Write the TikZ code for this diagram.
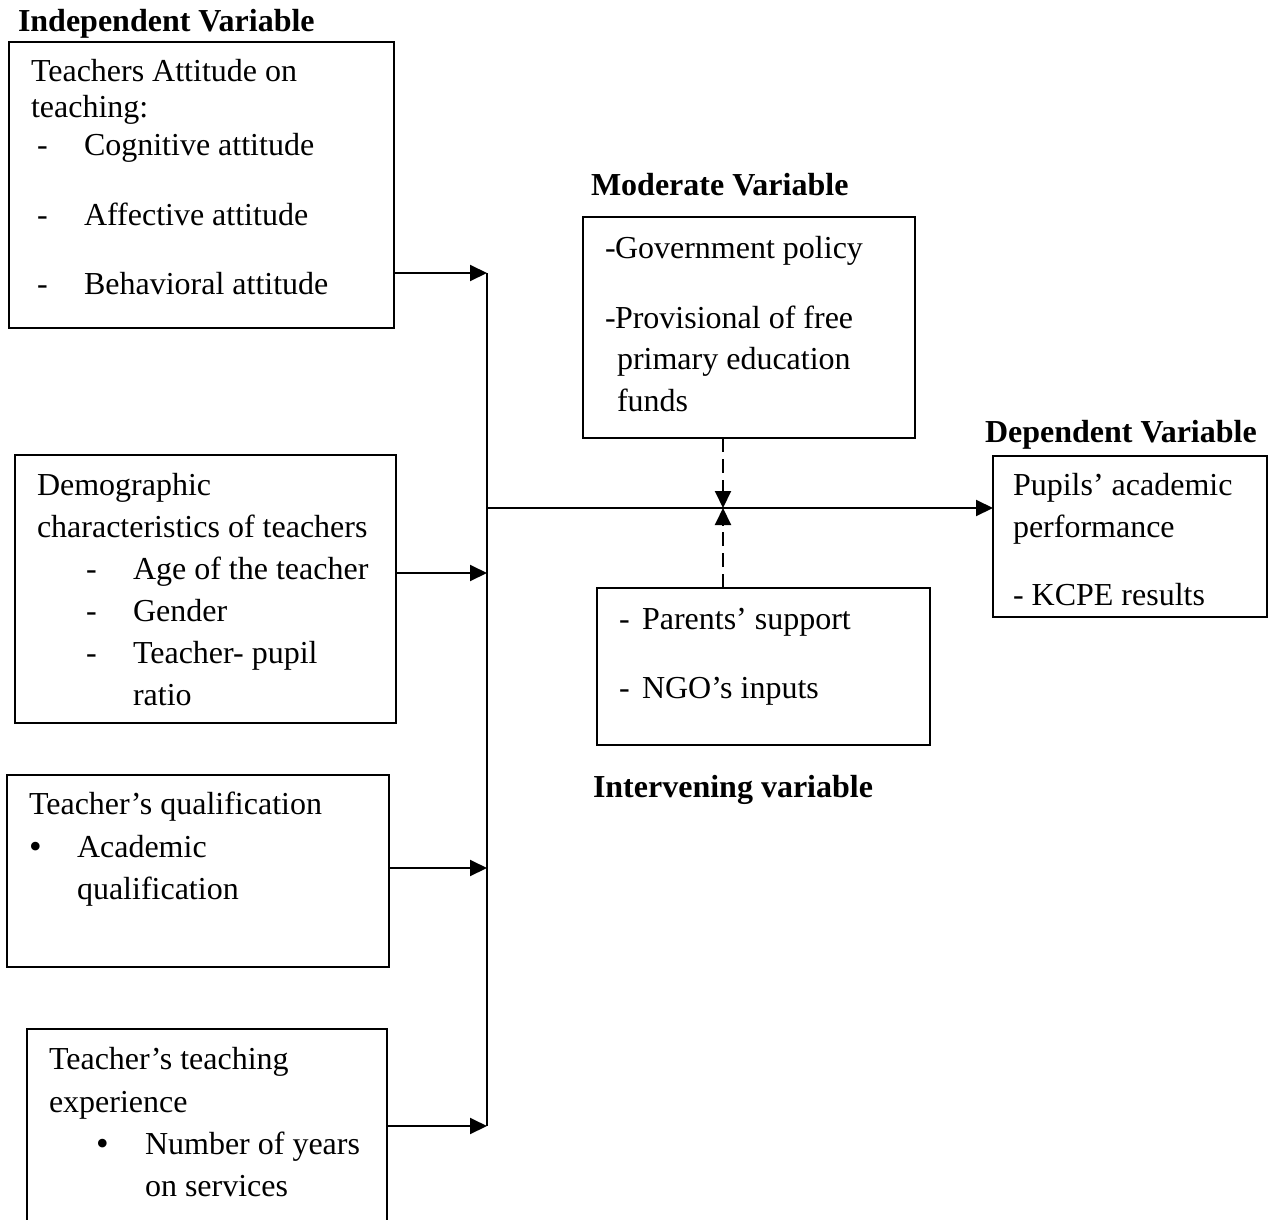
\documentclass[tikz,border=0pt]{standalone}
\usepackage{fontspec}
\setmainfont{Liberation Serif}
\usetikzlibrary{arrows.meta}
\begin{document}
\begin{tikzpicture}[x=1pt,y=-1pt,
  box/.style={draw=black, line width=2pt, rectangle, inner sep=0pt, outer sep=0pt, anchor=north west},
  txt/.style={anchor=base west, inner sep=0pt, outer sep=0pt, font=\fontsize{32}{42}\selectfont},
  hd/.style={txt, font=\fontsize{32}{42}\selectfont\bfseries},
  bul/.style={anchor=base west, inner sep=0pt, font=\fontsize{36}{42}\selectfont},
  arr/.style={line width=2pt, -{Triangle[length=17pt,width=16pt]}},
  dsh/.style={arr, dash pattern=on 14pt off 7pt}
]
\useasboundingbox (0,0) rectangle (1269,1220);
\clip (0,0) rectangle (1269,1220);

% headings
\node[hd] (hIndep) at (18,32) {Independent Variable};
\node[hd] (hMod) at (591,195) {Moderate Variable};
\node[hd] (hDep) at (985,442) {Dependent Variable};
\node[hd] (hInt) at (593,797) {Intervening variable};

% boxes
\node[box, minimum width=385pt, minimum height=286pt] (b1) at (9,42) {};
\node[box, minimum width=381pt, minimum height=268pt] (b2) at (15,455) {};
\node[box, minimum width=382pt, minimum height=192pt] (b3) at (7,775) {};
\node[box, minimum width=360pt, minimum height=211pt] (b4) at (27,1029) {};
\node[box, minimum width=332pt, minimum height=221pt] (b5) at (583,217) {};
\node[box, minimum width=274pt, minimum height=161pt] (b6) at (993,456) {};
\node[box, minimum width=333pt, minimum height=157pt] (b7) at (597,588) {};

% box 1 text
\node[txt] (t1a) at (31,82) {Teachers Attitude on};
\node[txt] (t1b) at (31,118) {teaching:};
\node[txt] (t1cd) at (37,156) {-};
\node[txt] (t1c) at (84,156) {Cognitive attitude};
\node[txt] (t1dd) at (37,225) {-};
\node[txt] (t1d) at (84,225) {Affective attitude};
\node[txt] (t1ed) at (37,294) {-};
\node[txt] (t1e) at (84,294) {Behavioral attitude};

% box 2 text
\node[txt] (t2a) at (37,495) {Demographic};
\node[txt] (t2b) at (37,537) {characteristics of teachers};
\node[txt] (t2cd) at (86,579) {-};
\node[txt] (t2c) at (133,579) {Age of the teacher};
\node[txt] (t2dd) at (86,621) {-};
\node[txt] (t2d) at (133,621) {Gender};
\node[txt] (t2ed) at (86,663) {-};
\node[txt] (t2e) at (133,663) {Teacher- pupil};
\node[txt] (t2f) at (133,705) {ratio};

% box 3 text
\node[txt] (t3a) at (29,814) {Teacher’s qualification};
\node[bul] (t3bb) at (29,858) {•};
\node[txt] (t3b) at (77,857) {Academic};
\node[txt] (t3c) at (77,899) {qualification};

% box 4 text
\node[txt] (t4a) at (49,1069) {Teacher’s teaching};
\node[bul] (t4cb) at (96,1155) {•};
\node[txt] (t4b) at (49,1112) {experience};
\node[txt] (t4c) at (145,1154) {Number of years};
\node[txt] (t4d) at (145,1196) {on services};

% box 5 text
\node[txt] (t5ad) at (605,258) {-};
\node[txt] (t5a) at (615,258) {Government policy};
\node[txt] (t5bd) at (605,328) {-};
\node[txt] (t5b) at (615,328) {Provisional of free};
\node[txt] (t5c) at (617,369) {primary education};
\node[txt] (t5d) at (617,411) {funds};

% box 6 text
\node[txt] (t6a) at (1013,495) {Pupils’ academic};
\node[txt] (t6b) at (1013,537) {performance};
\node[txt] (t6c) at (1013,605) {- KCPE results};

% box 7 text
\node[txt] (t7ad) at (619,629) {-};
\node[txt] (t7a) at (642,629) {Parents’ support};
\node[txt] (t7bd) at (619,698) {-};
\node[txt] (t7b) at (642,698) {NGO’s inputs};

% connectors
\coordinate (j1) at (487,273);
\coordinate (j2) at (487,573);
\coordinate (j3) at (487,868);
\coordinate (j4) at (487,1126);
\coordinate (j0) at (487,508);
\coordinate (m) at (723,508);

\draw[line width=2pt] (j1) -- (j4);
\draw[arr] (b1.east |- j1) -- (j1);
\draw[arr] (b2.east |- j2) -- (j2);
\draw[arr] (b3.east |- j3) -- (j3);
\draw[arr] (b4.east |- j4) -- (j4);
\draw[arr] (j0) -- (j0 -| b6.west);
\draw[dsh] (b5.south -| m) -- (m);
\draw[dsh] (b7.north -| m) -- (m);
\end{tikzpicture}
\end{document}
